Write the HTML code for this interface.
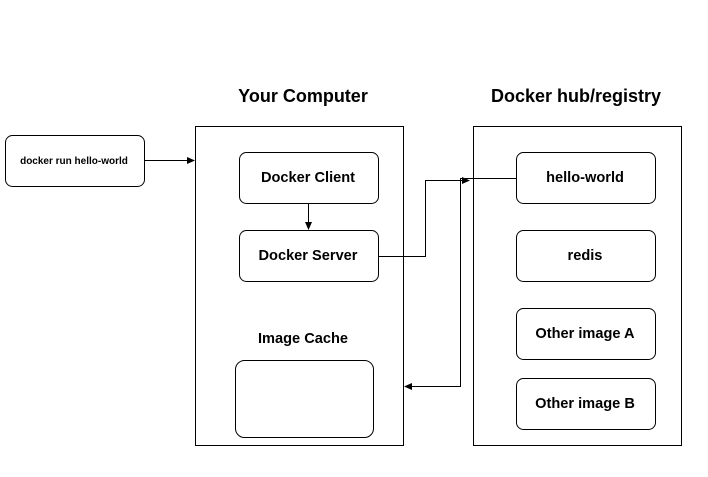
<!DOCTYPE html><html><head><style>body{margin:0;background:#fff;width:708px;height:472px;overflow:hidden}</style></head><body>
<svg width="708" height="472" xmlns="http://www.w3.org/2000/svg" font-family="Liberation Sans, sans-serif" font-weight="bold">
<defs><marker id="a" markerWidth="8" markerHeight="8" refX="7" refY="4" orient="auto" markerUnits="userSpaceOnUse"><path d="M0,0.5 L8,4 L0,7.5z" fill="#000"/></marker></defs>
<g fill="none" stroke="#000" stroke-width="1">
<rect x="5.5" y="135.5" width="139" height="51" rx="7"/>
<rect x="195.5" y="126.5" width="208" height="319"/>
<rect x="473.5" y="126.5" width="208" height="319"/>
<rect x="239.5" y="152.5" width="139" height="51" rx="7"/>
<rect x="239.5" y="230.5" width="139" height="51" rx="7"/>
<rect x="235.5" y="360.5" width="138" height="77" rx="9"/>
<rect x="516.5" y="152.5" width="139" height="51" rx="7"/>
<rect x="516.5" y="230.5" width="139" height="51" rx="7"/>
<rect x="516.5" y="308.5" width="139" height="51" rx="7"/>
<rect x="516.5" y="378.5" width="139" height="51" rx="7"/>
<path d="M144.5 160.5H194" marker-end="url(#a)"/>
<path d="M308.5 203.5V229" marker-end="url(#a)"/>
<path d="M378.5 256.5H425.5V180.5H469" marker-end="url(#a)"/>
<path d="M516.5 178.5H460.5V386.5H405" marker-end="url(#a)"/>
</g>
<g text-anchor="middle" fill="#000">
<text x="303" y="102" font-size="18">Your Computer</text>
<text x="576" y="102" font-size="18">Docker hub/registry</text>
<text x="74" y="164" font-size="10">docker run hello-world</text>
<text x="308" y="182" font-size="14.6">Docker Client</text>
<text x="308" y="260" font-size="14.6">Docker Server</text>
<text x="303" y="343" font-size="14.6">Image Cache</text>
<text x="585" y="182" font-size="14.6">hello-world</text>
<text x="585" y="260" font-size="14.6">redis</text>
<text x="585" y="338" font-size="14.6">Other image A</text>
<text x="585" y="408" font-size="14.6">Other image B</text>
</g></svg></body></html>
